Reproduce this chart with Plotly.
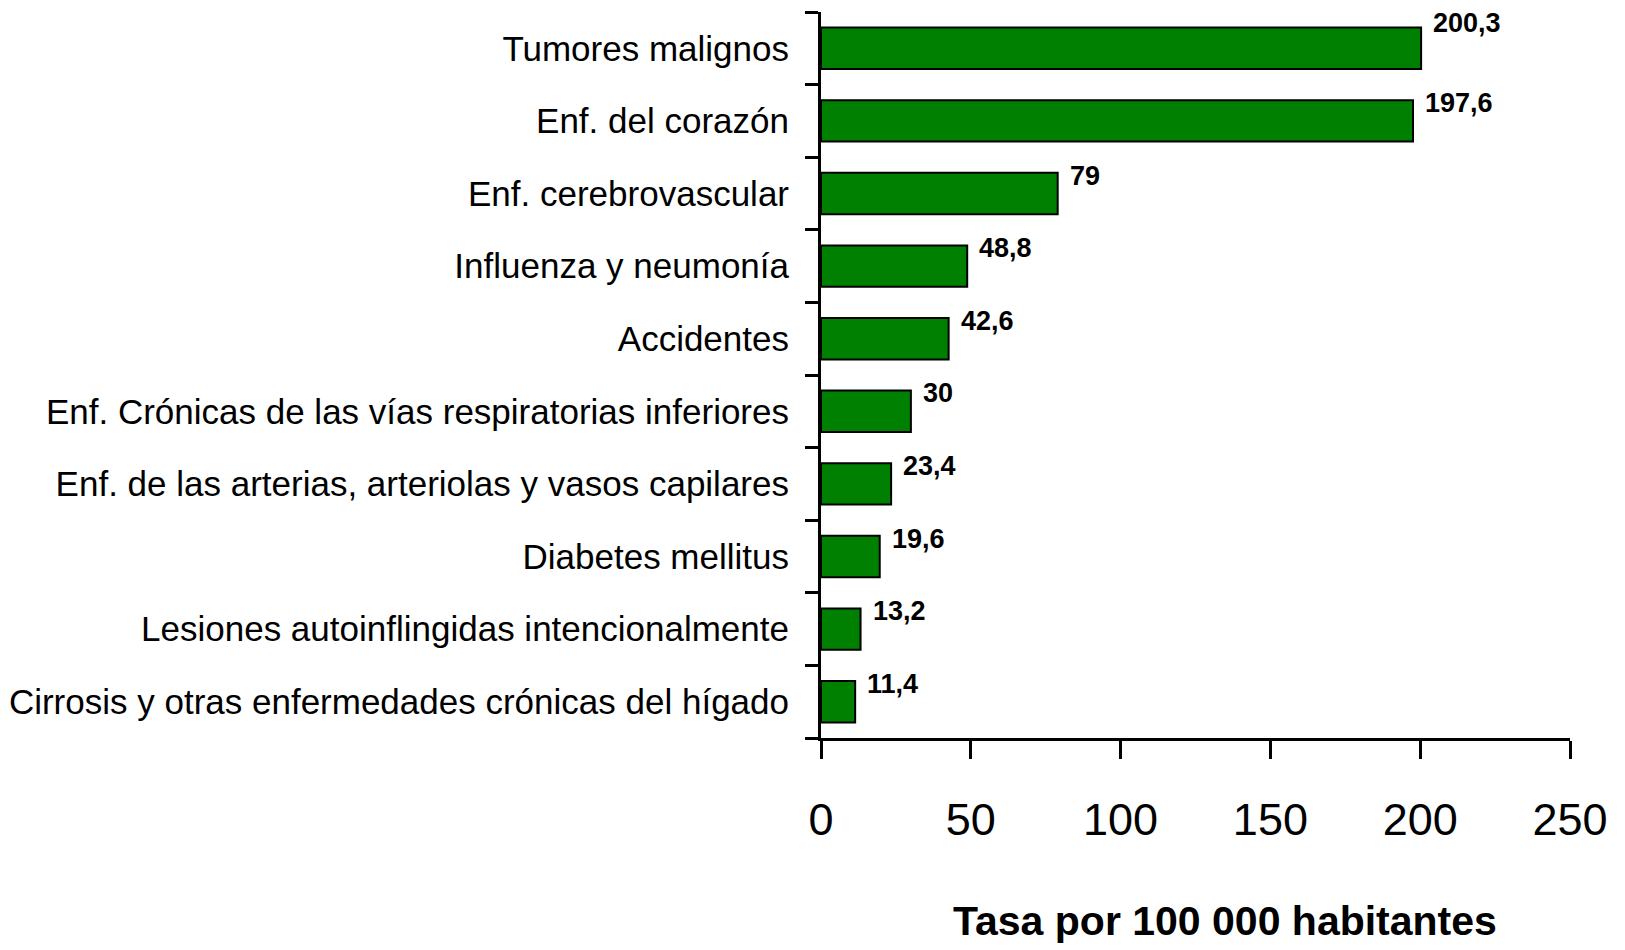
import plotly.graph_objects as go

categories = [
    "Tumores malignos",
    "Enf. del corazón",
    "Enf. cerebrovascular",
    "Influenza y neumonía",
    "Accidentes",
    "Enf. Crónicas de las vías respiratorias inferiores",
    "Enf. de las arterias, arteriolas y vasos capilares",
    "Diabetes mellitus",
    "Lesiones autoinflingidas intencionalmente",
    "Cirrosis y otras enfermedades crónicas del hígado",
]
values = [200.3, 197.6, 79, 48.8, 42.6, 30, 23.4, 19.6, 13.2, 11.4]
value_labels = ["200,3", "197,6", "79", "48,8", "42,6", "30", "23,4", "19,6", "13,2", "11,4"]
x_ticks = [0, 50, 100, 150, 200, 250]
x_title = "Tasa por 100 000 habitantes"

FONT = "Liberation Sans Narrow, Arial Narrow, Liberation Sans, Arial, sans-serif"

fig = go.Figure()
fig.add_trace(go.Bar(
    x=values,
    y=categories,
    orientation="h",
    marker=dict(color="#008000", line=dict(color="#000000", width=2)),
    hoverinfo="skip",
))

for i, (v, c, t) in enumerate(zip(values, categories, value_labels)):
    fig.add_annotation(
        x=v, y=c, text=t, showarrow=False,
        xanchor="left", yanchor="middle", xshift=10,
        yshift=25 if i == 0 else 18,
        font=dict(family=FONT, size=27, color="#000000", weight="bold"),
    )

fig.add_annotation(
    x=0.54, y=-0.252, xref="paper", yref="paper",
    text=x_title, showarrow=False, xanchor="center", yanchor="middle",
    font=dict(family=FONT, size=41, color="#000000", weight="bold"),
)

fig.update_layout(
    width=1625, height=950,
    margin=dict(l=813, r=63, t=4, b=220, pad=0, autoexpand=False),
    paper_bgcolor="white", plot_bgcolor="white",
    showlegend=False,
    bargap=0.43,
    font=dict(family=FONT, color="#000000"),
)
fig.update_xaxes(
    range=[0, 250], tickvals=x_ticks, ticktext=[str(v) for v in x_ticks],
    showgrid=False, zeroline=False, automargin=False,
    showline=True, linecolor="#000000", linewidth=3,
    ticks="outside", ticklen=18, tickwidth=3, tickcolor="#000000",
    tickfont=dict(family=FONT, size=45, color="#000000"),
    ticklabelstandoff=22,
)
fig.update_yaxes(
    categoryorder="array", categoryarray=categories[::-1],
    range=[-0.5, 9.5],
    showgrid=False, zeroline=False, automargin=False,
    showline=True, linecolor="#000000", linewidth=3,
    ticks="outside", ticklen=13, tickwidth=3, tickcolor="#000000",
    tickson="boundaries",
    tickfont=dict(family=FONT, size=35, color="#000000"),
    ticklabelstandoff=22,
)

fig.write_html("out.html")
